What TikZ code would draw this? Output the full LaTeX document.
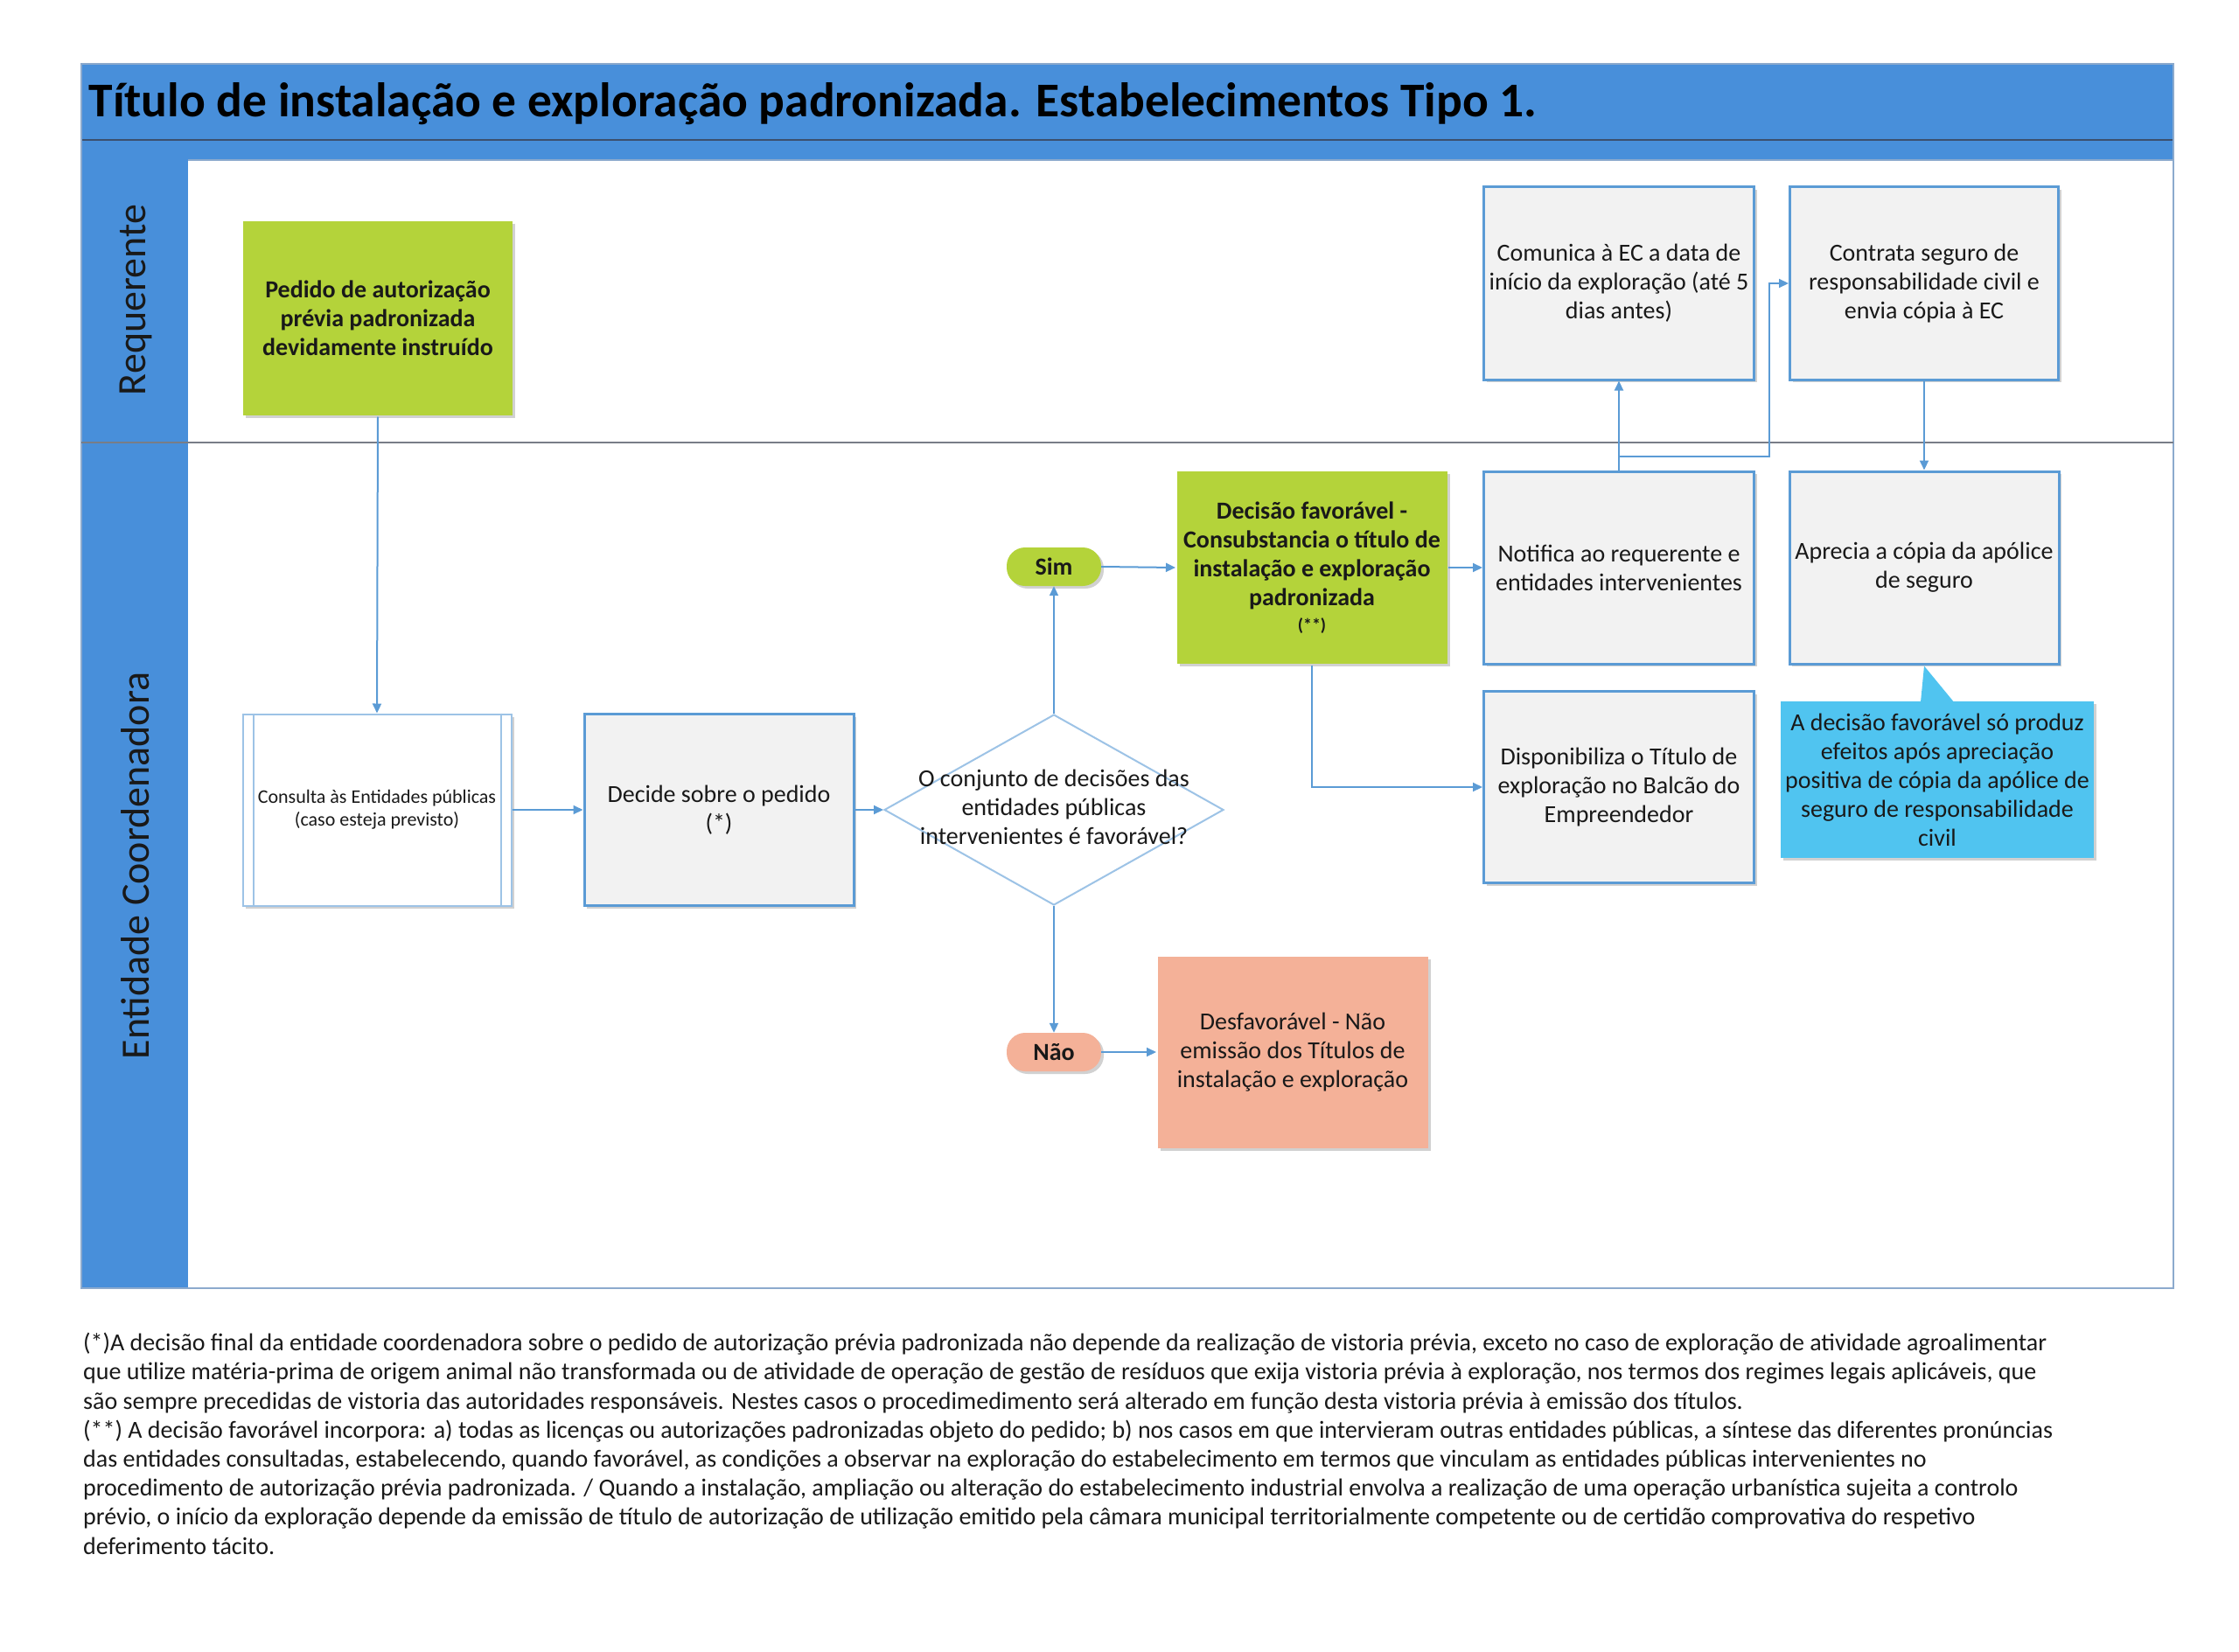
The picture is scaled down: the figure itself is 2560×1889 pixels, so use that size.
\documentclass[tikz,border=0pt]{standalone}
\usepackage{fontspec}
\setmainfont{Carlito}
\usetikzlibrary{shapes.geometric,arrows.meta,shadows}
\definecolor{titleblue}{RGB}{72,143,218}
\definecolor{darkline}{RGB}{60,80,110}
\definecolor{poolline}{RGB}{140,170,205}
\definecolor{lanediv}{RGB}{120,125,135}
\definecolor{boxgray}{RGB}{242,242,242}
\definecolor{boxblue}{RGB}{91,155,213}
\definecolor{lightblue}{RGB}{157,195,230}
\definecolor{lineblue}{RGB}{91,155,213}
\definecolor{greenfill}{RGB}{180,211,58}
\definecolor{salmon}{RGB}{244,177,152}
\definecolor{calloutcol}{RGB}{80,196,240}
\definecolor{txt}{RGB}{25,25,25}
\newcommand{\boxfont}{\fontsize{28}{33}\selectfont}
\tikzset{
  shad/.style={drop shadow={shadow xshift=3pt,shadow yshift=-3pt,opacity=.3,fill=black!60}},
  procbox/.style={shape=rectangle, fill=boxgray, draw=boxblue, line width=3pt, minimum width=309pt, minimum height=220pt, inner sep=0pt, align=center, font=\boxfont, text=txt, shad},
  greenbox/.style={procbox, fill=greenfill, draw=none, font=\boxfont\bfseries},
  redbox/.style={procbox, fill=salmon, draw=none},
  pill/.style={shape=rectangle, rounded corners=21pt, minimum width=108pt, minimum height=44pt, inner sep=0pt, font=\boxfont\bfseries, text=txt, shad},
  diam/.style={shape=diamond, draw=lightblue, line width=2pt, fill=white, minimum width=388pt, minimum height=218pt, inner sep=0pt, font=\boxfont, text=txt},
  conn/.style={draw=lineblue, line width=2pt, -{Triangle[length=11pt,width=10pt]}},
  lanelabel/.style={rotate=90, font=\fontsize{46}{50}\selectfont, text=txt},
}
\begin{document}
\begin{tikzpicture}[x=1pt,y=-1pt]
\useasboundingbox (0,0) rectangle (2560,1889);
% pool frame
\fill[titleblue] (93,73) rectangle (2485,183);
\draw[darkline, line width=1.5pt] (93,160) -- (2485,160);
\fill[titleblue] (93,183) rectangle (215,1473);
\draw[poolline, line width=2pt] (93,73) rectangle (2485,1473);
\draw[poolline, line width=1.5pt] (215,183) -- (2485,183);
\draw[lanediv, line width=2pt] (93,506) -- (2485,506);
\node[anchor=west, font=\fontsize{55.5}{60}\selectfont\bfseries, text=black] (title) at (98,119) {Título de instalação e exploração padronizada. Estabelecimentos Tipo 1.};
\node[lanelabel] (lreq) at (155,343) {Requerente};
\node[lanelabel] (lent) at (155,990) {Entidade Coordenadora};

% nodes
\node[greenbox, minimum width=308pt, minimum height=222pt] (pedido) at (432,364) {Pedido de autorização\\prévia padronizada\\devidamente instruído};
\node[procbox, fill=white, draw=lightblue, line width=2pt, minimum width=307pt, minimum height=219pt, font=\fontsize{22}{26}\selectfont] (consulta) at (431,926) {Consulta às Entidades públicas\\(caso esteja previsto)};
\draw[lightblue, line width=2pt] ([xshift=13pt]consulta.north west) -- ([xshift=13pt]consulta.south west)
  ([xshift=-13pt]consulta.north east) -- ([xshift=-13pt]consulta.south east);
\node[procbox, minimum width=308pt, minimum height=219pt] (decide) at (822,926) {Decide sobre o pedido\\(*)};
\node[diam] (dia) at (1205,926) {\makebox[0pt]{\raisebox{-12pt}{\smash{\begin{tabular}{@{}c@{}}O conjunto de decisões das\\entidades públicas\\intervenientes é favorável?\end{tabular}}}}};
\node[pill, fill=greenfill] (sim) at (1205,648) {Sim};
\node[pill, fill=salmon] (nao) at (1205,1203) {Não};
\node[greenbox] (fav) at (1500,649) {Decisão favorável -\\Consubstancia o título de\\instalação e exploração\\padronizada\\[-4pt]{\fontsize{20}{24}\selectfont (**)}};
\node[redbox, minimum height=219pt] (desf) at (1478,1203) {Desfavorável - Não\\emissão dos Títulos de\\instalação e exploração};
\node[procbox] (notif) at (1851,649) {Notifica ao requerente e\\entidades intervenientes};
\node[procbox, minimum height=219pt] (disp) at (1851,900) {Disponibiliza o Título de\\exploração no Balcão do\\Empreendedor};
\node[procbox] (comun) at (1851,324) {Comunica à EC a data de\\início da exploração (até 5\\dias antes)};
\node[procbox, minimum width=307pt] (contr) at (2200,324) {Contrata seguro de\\responsabilidade civil e\\envia cópia à EC};
\node[procbox, minimum width=308pt] (aprec) at (2200,649) {Aprecia a cópia da apólice\\de seguro};
\node[shape=rectangle, fill=calloutcol, minimum width=358pt, minimum height=179pt, inner sep=0pt, align=center, font=\boxfont, text=txt, shad] (callout) at (2215,891.5) {A decisão favorável só produz\\efeitos após apreciação\\positiva de cópia da apólice de\\seguro de responsabilidade\\civil};
\fill[calloutcol] ([xshift=-19pt,yshift=-1pt]callout.north) -- ([yshift=-1pt]aprec.south) -- ([xshift=19pt,yshift=-1pt]callout.north) -- cycle;

% connectors
\draw[conn] (pedido.south) -- (consulta.north);
\draw[conn] (consulta.east) -- (decide.west);
\draw[conn] (decide.east) -- (dia.west);
\draw[conn] (dia.north) -- (sim.south);
\draw[conn] (dia.south) -- (nao.north);
\draw[conn] (sim.east) -- (fav.west);
\draw[conn] (nao.east) -- (desf.west);
\draw[conn] (fav.east) -- (notif.west);
\draw[conn] (fav.south) |- (disp.west);
\draw[conn] (notif.north) -- (comun.south);
\coordinate (j1) at (2023,522);
\draw[conn] (notif.north) |- (j1) |- (contr.west);
\draw[conn] (contr.south) -- (aprec.north);

% footnote
\node[anchor=north west, align=left, inner sep=0pt, font=\fontsize{28}{33.2}\selectfont, text=txt] (note) at (95,1524) {(*)A decisão final da entidade coordenadora sobre o pedido de autorização prévia padronizada não depende da realização de vistoria prévia, exceto no caso de exploração de atividade agroalimentar\\
que utilize matéria-prima de origem animal não transformada ou de atividade de operação de gestão de resíduos que exija vistoria prévia à exploração, nos termos dos regimes legais aplicáveis, que\\
são sempre precedidas de vistoria das autoridades responsáveis. Nestes casos o procedimedimento será alterado em função desta vistoria prévia à emissão dos títulos.\\
(**) A decisão favorável incorpora: a) todas as licenças ou autorizações padronizadas objeto do pedido; b) nos casos em que intervieram outras entidades públicas, a síntese das diferentes pronúncias\\
das entidades consultadas, estabelecendo, quando favorável, as condições a observar na exploração do estabelecimento em termos que vinculam as entidades públicas intervenientes no\\
procedimento de autorização prévia padronizada. / Quando a instalação, ampliação ou alteração do estabelecimento industrial envolva a realização de uma operação urbanística sujeita a controlo\\
prévio, o início da exploração depende da emissão de título de autorização de utilização emitido pela câmara municipal territorialmente competente ou de certidão comprovativa do respetivo\\
deferimento tácito.};
\end{tikzpicture}
\end{document}
